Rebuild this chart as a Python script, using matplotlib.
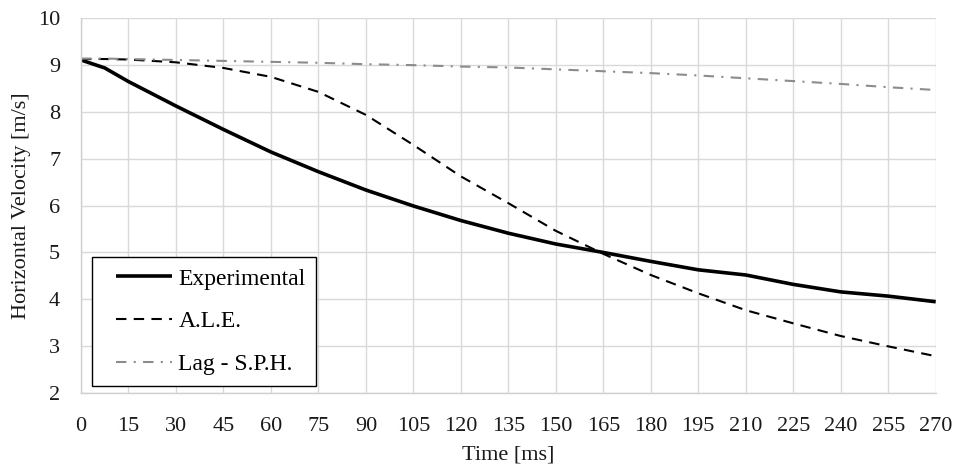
import matplotlib
matplotlib.use("Agg")
import matplotlib.pyplot as plt
from matplotlib.legend_handler import HandlerLine2D

plt.rcParams['font.family'] = ['Liberation Serif', 'DejaVu Serif']

time_ms = [0, 7.5, 15, 30, 45, 60, 75, 90, 105, 120, 135, 150, 165, 180, 195, 210, 225, 240, 255, 270]
experimental = [9.10, 8.93, 8.64, 8.12, 7.62, 7.14, 6.72, 6.33, 5.99, 5.68, 5.41, 5.18, 5.00, 4.81, 4.63, 4.52, 4.32, 4.16, 4.07, 3.95]
ale = [9.12, 9.12, 9.11, 9.05, 8.93, 8.74, 8.42, 7.93, 7.29, 6.62, 6.05, 5.46, 4.97, 4.52, 4.13, 3.77, 3.49, 3.22, 3.00, 2.79]
lag_sph = [9.13, 9.13, 9.12, 9.10, 9.08, 9.06, 9.04, 9.01, 8.99, 8.96, 8.94, 8.90, 8.86, 8.82, 8.77, 8.71, 8.65, 8.59, 8.52, 8.46]

x_ticks = list(range(0, 271, 15))
y_ticks = list(range(2, 11))


class OffsetLineHandler(HandlerLine2D):
    """Line handle with an empty lead-in on its left side."""
    def __init__(self, lead=0.55, **kw):
        super().__init__(**kw)
        self.lead = lead

    def get_xdata(self, legend, xdescent, ydescent, width, height, fontsize):
        x0 = -xdescent + self.lead * fontsize
        return [x0, -xdescent + width], [0.5 * (x0 - xdescent + width)]


fig = plt.figure(figsize=(9.55, 4.70), dpi=100)
ax = fig.add_axes([0.0848, 0.1632, 0.8950, 0.7991])

l1, = ax.plot(time_ms, experimental, color='black', lw=2.6, label='Experimental', solid_capstyle='butt')
l2, = ax.plot(time_ms, ale, color='black', lw=1.5, dashes=(5, 3.5), label='A.L.E.')
l3, = ax.plot(time_ms, lag_sph, color='#8c8c8c', lw=1.5, dashes=(5, 3.5, 1, 3.5), label='Lag - S.P.H.')

ax.set_xlim(0, 270)
ax.set_ylim(2, 10)
ax.set_xticks(x_ticks)
ax.set_yticks(y_ticks)
ax.grid(True, color='#d9d9d9', lw=1.0)
ax.set_axisbelow(True)
for s in ['top', 'right']:
    ax.spines[s].set_visible(False)
for s in ['left', 'bottom']:
    ax.spines[s].set_color('#d0d0d0')
    ax.spines[s].set_linewidth(1.0)
ax.tick_params(axis='both', length=0, labelsize=16, colors='#1a1a1a')
ax.tick_params(axis='x', pad=17)
ax.tick_params(axis='y', pad=15)
ax.set_xlabel('Time [ms]', fontsize=16, color='#1a1a1a', labelpad=7)
ax.set_ylabel('Horizontal Velocity [m/s]', fontsize=16, color='#1a1a1a', labelpad=5)

h = OffsetLineHandler(lead=0.55)
leg = ax.legend(handles=[l1, l2, l3], loc='lower left', bbox_to_anchor=(0.013, 0.02), fontsize=17,
                frameon=True, fancybox=False, edgecolor='black', framealpha=1,
                handlelength=2.95, handletextpad=0.25, borderpad=0.45, labelspacing=0.9,
                borderaxespad=0, handler_map={l1: h, l2: h, l3: h})
leg.get_frame().set_linewidth(1.0)

fig.savefig('out.png', dpi=100)
